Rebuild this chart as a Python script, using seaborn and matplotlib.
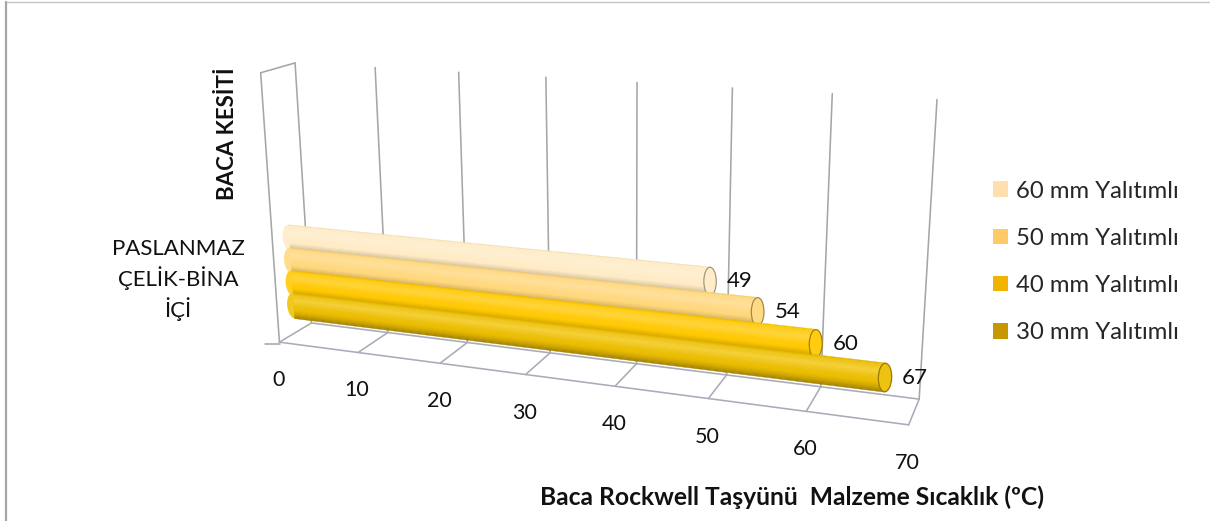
import colorsys
import numpy as np
import pandas as pd
import matplotlib
matplotlib.use("Agg")
import matplotlib.pyplot as plt
import matplotlib.transforms as mtransforms
from matplotlib.lines import Line2D
from matplotlib.patches import Rectangle, Ellipse, Patch
from matplotlib.colors import to_rgb
import seaborn as sns

# ---- data -------------------------------------------------------------
category = ["PASLANMAZ\nÇELİK-BİNA\nİÇİ"]
series = ["60 mm Yalıtımlı", "50 mm Yalıtımlı", "40 mm Yalıtımlı", "30 mm Yalıtımlı"]
values = [49, 54, 60, 67]
colors = ["#FFDFAD", "#FFC966", "#F2B200", "#C89700"]
x_ticks = [0, 10, 20, 30, 40, 50, 60, 70]
x_title = "Baca Rockwell Taşyünü  Malzeme Sıcaklık (ºC)"
y_title = "BACA KESİTİ"

W, H = 1210, 521
XMAX = 70.0

sns.set_theme(style="white")
plt.rcParams["font.family"] = ["Lato", "DejaVu Sans"]

fig = plt.figure(figsize=(W / 100, H / 100), dpi=100)
ax = fig.add_axes([0, 0, 1, 1])
ax.set_axis_off()

# ---- 3-D box: camera fitted to the box outline (pixel space, y down) ---
wall_bottom_px = [(310, 323), (387, 332), (467, 341), (550, 352),
                  (637, 363), (727, 375), (822, 387), (918, 402)]
wall_top_px = [(296, 63), (376, 67), (460, 72), (545, 78),
               (635, 85), (734, 90), (832, 92), (937, 97)]
floor_front_px = [(280, 344), (360, 352), (440, 363), (525, 375),
                  (615, 387), (708, 398), (807, 412), (908, 423)]
side_top_front_px = (259, 72)


def fit_camera(xyz, uv):
    rows = []
    for (x, y, z), (u, v) in zip(xyz, uv):
        u, v = u / 1000.0, v / 1000.0
        X = [x, y, z, 1.0]
        rows.append(X + [0, 0, 0, 0] + [-u * a for a in X])
        rows.append([0, 0, 0, 0] + X + [-v * a for a in X])
    _, _, vt = np.linalg.svd(np.array(rows, float))
    P = vt[-1].reshape(3, 4)
    return np.diag([1000.0, 1000.0, 1.0]) @ P


xs = [t / XMAX for t in x_ticks]
pts3, pts2 = [], []
for x, p in zip(xs, wall_bottom_px):
    pts3.append((x, 0, 0)); pts2.append(p)
for x, p in zip(xs, wall_top_px):
    pts3.append((x, 1, 0)); pts2.append(p)
for x, p in zip(xs, floor_front_px):
    pts3.append((x, 0, 1)); pts2.append(p)
pts3.append((0, 1, 1)); pts2.append(side_top_front_px)
CAM = fit_camera(pts3, pts2)


class Projective(mtransforms.Transform):
    input_dims = output_dims = 2
    is_separable = False

    def __init__(self, m):
        super().__init__()
        self.m = np.asarray(m, float)

    def transform_non_affine(self, values):
        v = np.asarray(values, float)
        flat = v.ndim == 1
        v = np.atleast_2d(v)
        p = np.c_[v, np.ones(len(v))] @ self.m.T
        out = p[:, :2] / p[:, 2:3]
        return out[0] if flat else out


FLIP = np.array([[1, 0, 0], [0, -1, H], [0, 0, 1]], float)
SX = np.diag([1 / XMAX, 1, 1])


def depth_plane(z, pre=SX):
    m = np.c_[CAM[:, 0], CAM[:, 1], CAM[:, 3] + z * CAM[:, 2]]
    return Projective(FLIP @ m @ pre)


wall_T = depth_plane(0.0)
floor_T = Projective(FLIP @ np.c_[CAM[:, 0], CAM[:, 2], CAM[:, 3]] @ SX)
side_T = Projective(FLIP @ np.c_[CAM[:, 2], CAM[:, 1], CAM[:, 3]])

grid_kw = dict(color="#A6A6A6", lw=1.15, zorder=1, solid_capstyle="round")
floor_kw = dict(color="#A9ACB8", lw=1.15, zorder=1, solid_capstyle="round")

for t in x_ticks:
    ax.add_line(Line2D([t, t], [0, 1], transform=wall_T, **grid_kw))
ax.add_line(Line2D([0, XMAX], [0, 0], transform=floor_T, **floor_kw))
ax.add_line(Line2D([0, XMAX], [1, 1], transform=floor_T, **floor_kw))
for t in x_ticks:
    ax.add_line(Line2D([t, t], [0, 1], transform=floor_T, **floor_kw))
ax.add_line(Line2D([0, 1], [1, 1], transform=side_T, **grid_kw))
ax.add_line(Line2D([1, 1], [0, 1], transform=side_T, **grid_kw))

# ---- bars -------------------------------------------------------------
df = pd.DataFrame({"category": category * len(series),
                   "series": series, "value": values})
sns.barplot(data=df, x="value", y="category", hue="series",
            hue_order=series, palette=colors, orient="h", width=0.8,
            saturation=1, errorbar=None, legend=False, ax=ax)

# category coordinate -> height on the mid-depth plane
bar_pre = np.array([[1 / XMAX, 0, 0], [0, -0.44, 0.237], [0, 0, 1]], float)
bar_T = depth_plane(0.5, bar_pre)


def body_hsv(c):
    h, s, v = colorsys.rgb_to_hsv(*to_rgb(c))
    return (h + 3 / 360.0, s ** 1.3, min(1.0, v * 1.17))


def shade(hsv, k):
    h, s, v = hsv
    if k >= 0:
        v = v + (1 - v) * k
        s = s * (1 - 0.45 * k)
    else:
        v = v * (1 + k)
        s = min(1.0, s * (1 - 0.3 * k))
    return colorsys.hsv_to_rgb(h, s, v)


prof_t = [0.0, 0.1, 0.3, 0.55, 0.85, 1.0]
prof_k = [-0.12, 0.25, 0.55, 0.12, -0.12, -0.32]

bars = sorted(ax.patches, key=lambda p: p.get_y())
n_str = 24
for i, (p, col) in enumerate(zip(bars, colors)):
    base = body_hsv(col)
    z = 3 + i * 3
    x0, w = p.get_x(), p.get_width()
    yc = p.get_y() + p.get_height() / 2
    hh = p.get_height() * 1.14
    p.set_transform(bar_T)
    p.set_zorder(z)
    p.set_linewidth(0)
    p.set_facecolor(shade(base, 0.05))
    ax.add_patch(Ellipse((x0, yc), 1.8, hh, transform=bar_T, zorder=z - 0.5,
                         facecolor=shade(base, 0.3), edgecolor="none"))
    for j in range(n_str):
        t = (j + 0.5) / n_str
        c = shade(base, np.interp(t, prof_t, prof_k))
        ax.add_patch(Rectangle((x0, yc - hh / 2 + j * hh / n_str), w,
                               hh / n_str * 1.05, transform=bar_T,
                               facecolor=c, edgecolor=c, lw=0.3,
                               zorder=z + 0.1))
    ax.add_patch(Ellipse((x0 + w, yc), 1.3, hh * 0.98, transform=bar_T,
                         zorder=z + 0.2, facecolor=shade(base, 0.15),
                         edgecolor=shade(base, -0.35), lw=0.9))
    off = mtransforms.Affine2D().translate(17, 0)
    ax.text(x0 + w, yc, f"{w:g}", transform=bar_T + off, ha="left",
            va="center", fontsize=16, color="#111111", zorder=20)

# ---- axis labels ------------------------------------------------------
tick_off = mtransforms.Affine2D().translate(-1, -38)
for t in x_ticks:
    ax.text(t, 1, f"{t}", transform=floor_T + tick_off, ha="center",
            va="center", fontsize=15.5, color="#111111")


def fx(x):
    return x / W


def fy(y):
    return 1 - y / H


fig.text(fx(178), fy(280), category[0], ha="center", va="center",
         fontsize=16, linespacing=1.38, color="#111111")
fig.text(fx(228), fy(134), y_title, ha="center", va="center", rotation=90,
         fontsize=16, fontweight="bold", color="#111111")
fig.text(fx(792), fy(497), x_title, ha="center", va="center",
         fontsize=17.7, fontweight="bold", color="#111111")

fig.add_artist(Line2D([fx(265), fx(280)], [fy(344), fy(344)],
                      color="#A6A6A6", lw=1.15))

# ---- legend -----------------------------------------------------------
handles = [Patch(facecolor=c, edgecolor="none") for c in colors]
fig.legend(handles, series, loc="center left",
           bbox_to_anchor=(fx(993), fy(262)), frameon=False, fontsize=17.2,
           handlelength=0.62, handleheight=0.62, handletextpad=0.33,
           labelspacing=1.1, borderpad=0, borderaxespad=0)

# ---- outer frame (top and left) -----------------------------------------
fig.add_artist(Line2D([fx(5), fx(W)], [fy(2), fy(2)], color="#C4C4C4", lw=1))
fig.add_artist(Line2D([fx(5.5), fx(5.5)], [fy(2), 0], color="#A6A6A6", lw=1.6))

fig.savefig("out.png", dpi=100)
